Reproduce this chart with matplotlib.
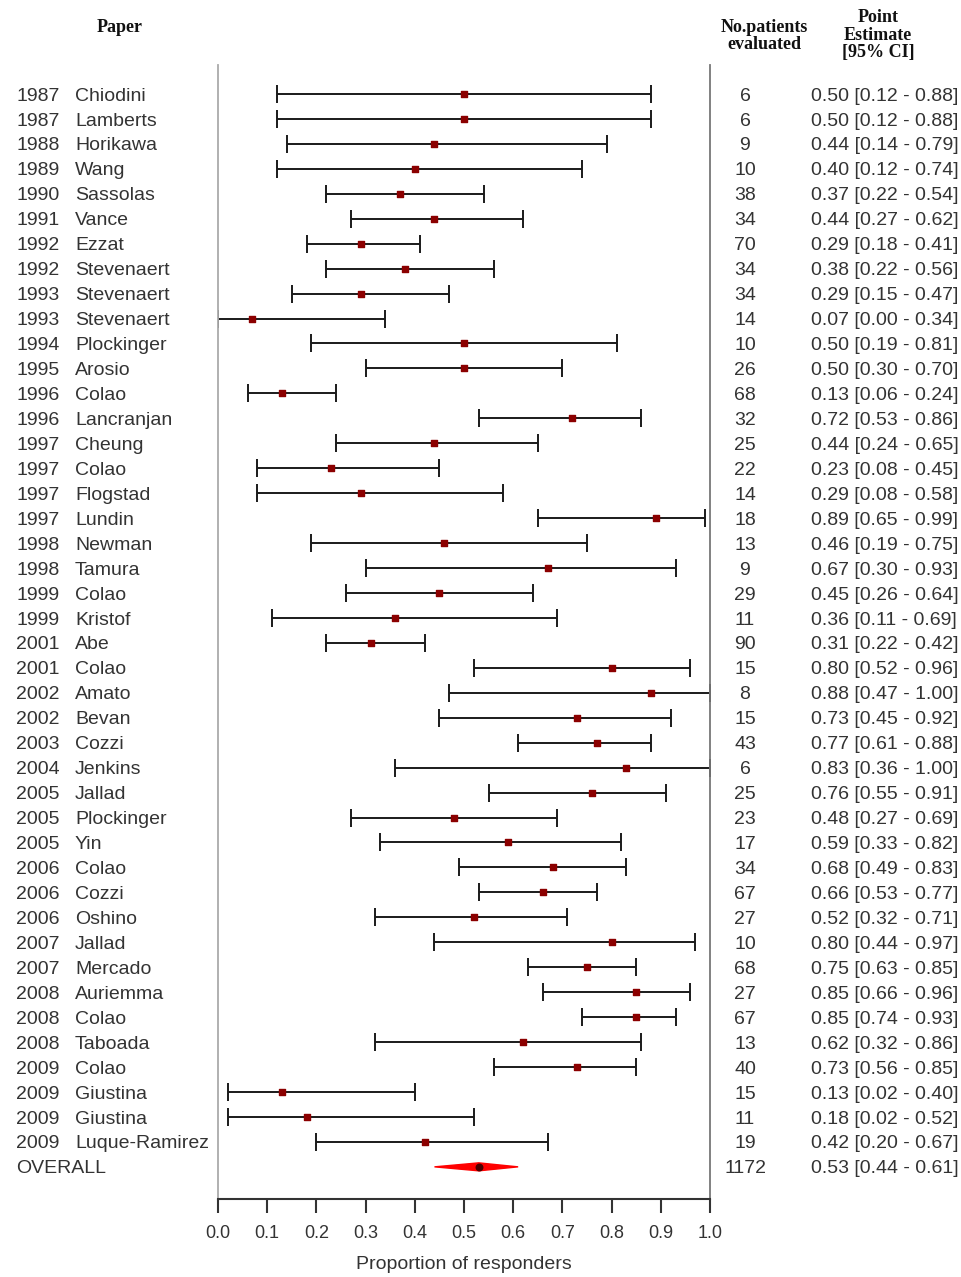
import matplotlib
matplotlib.use("Agg")
import matplotlib.pyplot as plt
from matplotlib.patches import Polygon
from matplotlib.transforms import blended_transform_factory, offset_copy

years = ["1987", "1987", "1988", "1989", "1990", "1991", "1992", "1992", "1993", "1993",
         "1994", "1995", "1996", "1996", "1997", "1997", "1997", "1997", "1998", "1998",
         "1999", "1999", "2001", "2001", "2002", "2002", "2003", "2004", "2005", "2005",
         "2005", "2006", "2006", "2006", "2007", "2007", "2008", "2008", "2008", "2009",
         "2009", "2009", "2009"]
authors = ["Chiodini", "Lamberts", "Horikawa", "Wang", "Sassolas", "Vance", "Ezzat", "Stevenaert",
           "Stevenaert", "Stevenaert", "Plockinger", "Arosio", "Colao", "Lancranjan", "Cheung",
           "Colao", "Flogstad", "Lundin", "Newman", "Tamura", "Colao", "Kristof", "Abe", "Colao",
           "Amato", "Bevan", "Cozzi", "Jenkins", "Jallad", "Plockinger", "Yin", "Colao", "Cozzi",
           "Oshino", "Jallad", "Mercado", "Auriemma", "Colao", "Taboada", "Colao", "Giustina",
           "Giustina", "Luque-Ramirez"]
n_patients = [6, 6, 9, 10, 38, 34, 70, 34, 34, 14, 10, 26, 68, 32, 25, 22, 14, 18, 13, 9,
              29, 11, 90, 15, 8, 15, 43, 6, 25, 23, 17, 34, 67, 27, 10, 68, 27, 67, 13, 40,
              15, 11, 19]
estimate = [0.50, 0.50, 0.44, 0.40, 0.37, 0.44, 0.29, 0.38, 0.29, 0.07, 0.50, 0.50, 0.13, 0.72,
            0.44, 0.23, 0.29, 0.89, 0.46, 0.67, 0.45, 0.36, 0.31, 0.80, 0.88, 0.73, 0.77, 0.83,
            0.76, 0.48, 0.59, 0.68, 0.66, 0.52, 0.80, 0.75, 0.85, 0.85, 0.62, 0.73, 0.13, 0.18,
            0.42]
ci_low = [0.12, 0.12, 0.14, 0.12, 0.22, 0.27, 0.18, 0.22, 0.15, 0.00, 0.19, 0.30, 0.06, 0.53,
          0.24, 0.08, 0.08, 0.65, 0.19, 0.30, 0.26, 0.11, 0.22, 0.52, 0.47, 0.45, 0.61, 0.36,
          0.55, 0.27, 0.33, 0.49, 0.53, 0.32, 0.44, 0.63, 0.66, 0.74, 0.32, 0.56, 0.02, 0.02,
          0.20]
ci_high = [0.88, 0.88, 0.79, 0.74, 0.54, 0.62, 0.41, 0.56, 0.47, 0.34, 0.81, 0.70, 0.24, 0.86,
           0.65, 0.45, 0.58, 0.99, 0.75, 0.93, 0.64, 0.69, 0.42, 0.96, 1.00, 0.92, 0.88, 1.00,
           0.91, 0.69, 0.82, 0.83, 0.77, 0.71, 0.97, 0.85, 0.96, 0.93, 0.86, 0.85, 0.40, 0.52,
           0.67]
overall_label = "OVERALL"
overall_n = 1172
overall_est = 0.53
overall_low = 0.44
overall_high = 0.61
x_ticks = [0.0, 0.1, 0.2, 0.3, 0.4, 0.5, 0.6, 0.7, 0.8, 0.9, 1.0]

W, H = 961, 1277
fig = plt.figure(figsize=(W / 100, H / 100), dpi=100)
ax_left, ax_right = 218, 710
ax_top, ax_bot = 65, 1199
ax = fig.add_axes([ax_left / W, 1 - ax_bot / H, (ax_right - ax_left) / W, (ax_bot - ax_top) / H])

row0 = 94.0
step = 24.95
ax.set_xlim(0, 1)
ax.set_ylim(-(ax_bot - row0) / step, (row0 - ax_top) / step)

txt_col = "#333333"
sans = "Liberation Sans"
fs = 14

nrows = len(years)
ys = [-i for i in range(nrows)]
xerr = [[e - l for e, l in zip(estimate, ci_low)], [h - e for e, h in zip(estimate, ci_high)]]
ax.errorbar(estimate, ys, xerr=xerr, fmt="none", ecolor="#1a1a1a", elinewidth=1.4,
            capsize=6.5, capthick=1.4, zorder=2)
ax.scatter(estimate, ys, marker="s", s=20, color="#8B0000", zorder=3)

yo = -nrows
diamond = Polygon([[overall_low, yo], [overall_est, yo + 0.16], [overall_high, yo],
                   [overall_est, yo - 0.16]], closed=True, facecolor="red", edgecolor="red", lw=1.0,
                  zorder=2)
ax.add_patch(diamond)
ax.scatter([overall_est], [yo], marker="o", s=22, color="#4a0000", zorder=3)

ax.spines["top"].set_visible(False)
ax.spines["left"].set_color("#aaaaaa")
ax.spines["left"].set_linewidth(1.3)
ax.spines["right"].set_color("#777777")
ax.spines["right"].set_linewidth(1.3)
ax.spines["bottom"].set_color("#333333")
ax.spines["bottom"].set_linewidth(1.5)
ax.set_yticks([])
ax.set_xticks(x_ticks)
ax.set_xticklabels([f"{t:.1f}" for t in x_ticks], fontsize=13, color=txt_col, family=sans)
ax.tick_params(axis="x", direction="out", length=10, width=1.5, color="#333333", pad=9)
ax.set_xlabel("Proportion of responders", fontsize=14, color=txt_col, family=sans, labelpad=10)

bt = blended_transform_factory(fig.transFigure, ax.transData)
bt = offset_copy(bt, fig=fig, x=0, y=-1.5, units="points")

def row_text(y, year, name, n, est, lo, hi):
    if year:
        ax.text(16 / W, y, year, transform=bt, fontsize=fs, color=txt_col, family=sans,
                ha="left", va="center")
        ax.text(75 / W, y, name, transform=bt, fontsize=fs, color=txt_col, family=sans,
                ha="left", va="center")
    else:
        ax.text(16 / W, y, name, transform=bt, fontsize=fs, color=txt_col, family=sans,
                ha="left", va="center")
    ax.text(745 / W, y, str(n), transform=bt, fontsize=fs, color=txt_col, family=sans,
            ha="center", va="center")
    ax.text(811 / W, y, f"{est:.2f} [{lo:.2f} - {hi:.2f}]", transform=bt,
            fontsize=fs, color=txt_col, family=sans, ha="left", va="center")

for i in range(nrows):
    row_text(ys[i], years[i], authors[i], n_patients[i], estimate[i], ci_low[i], ci_high[i])
row_text(yo, None, overall_label, overall_n, overall_est, overall_low, overall_high)

serif = "Liberation Serif"
fig.text(120 / W, 1 - 27 / H, "Paper", fontsize=13, fontweight="bold", family=serif,
         ha="center", va="center", color="#111111")
fig.text(764 / W, 1 - 36 / H, "No.patients\nevaluated", fontsize=13, fontweight="bold",
         family=serif, ha="center", va="center", color="#111111", linespacing=1.0)
fig.text(878 / W, 1 - 35 / H, "Point\nEstimate\n[95% CI]", fontsize=13, fontweight="bold",
         family=serif, ha="center", va="center", color="#111111", linespacing=1.0)

fig.savefig("out.png", dpi=100, facecolor="white")
